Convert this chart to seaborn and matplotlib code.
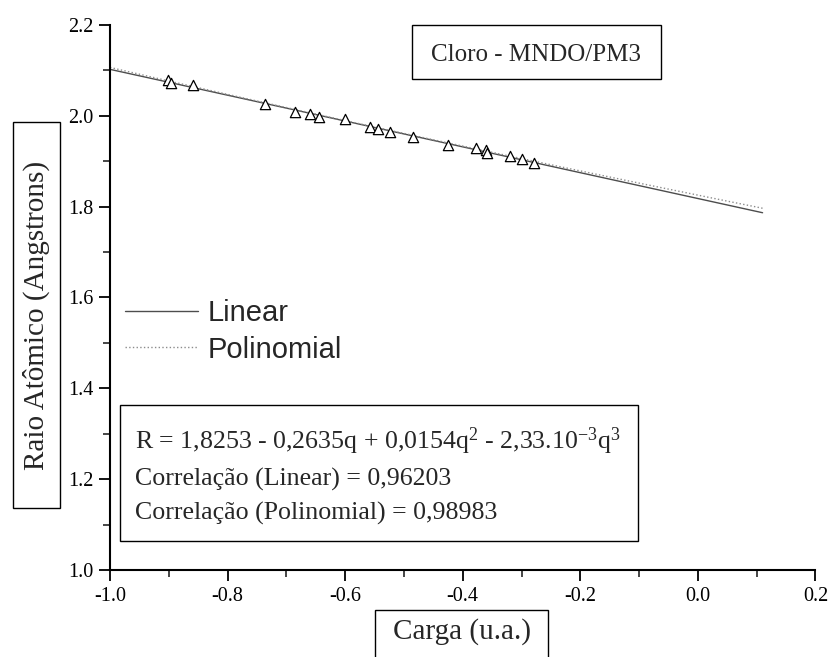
import numpy as np
import matplotlib
matplotlib.use("Agg")
import matplotlib.pyplot as plt
from matplotlib.patches import Rectangle
from matplotlib.ticker import MultipleLocator
import seaborn as sns

# ---------------------------------------------------------
# DATA
# ---------------------------------------------------------
carga = [-0.901, -0.897, -0.858, -0.737, -0.685, -0.660, -0.645, -0.600,
         -0.558, -0.544, -0.524, -0.484, -0.425, -0.377, -0.360, -0.358,
         -0.319, -0.300, -0.279]
raio = [2.079, 2.073, 2.067, 2.025, 2.009, 2.003, 1.997, 1.992,
        1.975, 1.970, 1.964, 1.953, 1.935, 1.930, 1.925, 1.919,
        1.912, 1.904, 1.897]

# R = a0 + a1 q + a2 q^2 + a3 q^3 (from the equation box)
poly_coef = [1.8253, -0.2635, 0.0154, -2.33e-3]
fit_range = [-1.0, 0.11]

titulo = "Cloro - MNDO/PM3"
texto_eq = [r"R = 1,8253 - 0,2635q + 0,0154q$^2$ - 2,33.10$^{-3}$q$^3$",
            "Correlação (Linear) = 0,96203",
            "Correlação (Polinomial) = 0,98983"]

# ---------------------------------------------------------
# STYLE
# ---------------------------------------------------------
sns.set_theme(style="ticks")
plt.rcParams["font.family"] = ["Liberation Serif", "DejaVu Serif"]
plt.rcParams["mathtext.fontset"] = "custom"
plt.rcParams["mathtext.rm"] = "Liberation Serif"
plt.rcParams["mathtext.it"] = "Liberation Serif:italic"
plt.rcParams["mathtext.default"] = "regular"

fig = plt.figure(figsize=(8.29, 6.57), dpi=100)
ax = fig.add_axes([0.1327, 0.1324, 0.851, 0.8296])

# ---------------------------------------------------------
# FITS
# ---------------------------------------------------------
q = np.linspace(fit_range[0], fit_range[1], 200)
lin = np.polyfit(carga, raio, 1)
r_lin = np.polyval(lin, q)
r_pol = np.polyval(poly_coef[::-1], q)

sns.lineplot(x=q, y=r_lin, ax=ax, color="0.3", lw=1.0, label="Linear")
sns.lineplot(x=q, y=r_pol, ax=ax, color="0.55", lw=1.0, ls=":",
             label="Polinomial")
sns.scatterplot(x=carga, y=raio, ax=ax, marker="^", s=55,
                facecolor="white", edgecolor="black", linewidth=0.9,
                zorder=5)

# ---------------------------------------------------------
# AXES
# ---------------------------------------------------------
ax.set_xlim(-1.0, 0.2)
ax.set_ylim(1.0, 2.2)
ax.xaxis.set_major_locator(MultipleLocator(0.2))
ax.xaxis.set_minor_locator(MultipleLocator(0.1))
ax.yaxis.set_major_locator(MultipleLocator(0.2))
ax.yaxis.set_minor_locator(MultipleLocator(0.1))
ax.xaxis.set_major_formatter(lambda v, p: f"{v:.1f}")
ax.yaxis.set_major_formatter(lambda v, p: f"{v:.1f}")
ax.tick_params(which="major", direction="out", length=8, width=1.3,
               labelsize=14.5, pad=4, colors="black")
ax.tick_params(which="minor", direction="out", length=5, width=1.2)
sns.despine(ax=ax)
for s in ["left", "bottom"]:
    ax.spines[s].set_linewidth(1.5)
    ax.spines[s].set_color("black")

# axis labels in boxes
ax.set_xlabel("Carga (u.a.)", fontsize=21, va="baseline", ha="center")
ax.xaxis.set_label_coords(0.5573, 0.0274, transform=fig.transFigure)
ax.set_ylabel("Raio Atômico (Angstrons)", fontsize=21, va="center",
              ha="center")
ax.yaxis.set_label_coords(0.044, 0.5205, transform=fig.transFigure)

fig.add_artist(Rectangle((0.4524, -0.02), 0.2087, 0.0915,
                         transform=fig.transFigure, fill=False,
                         ec="black", lw=1.0))
fig.add_artist(Rectangle((0.0157, 0.2268), 0.0567, 0.5875,
                         transform=fig.transFigure, fill=False,
                         ec="black", lw=1.0))

# title box
ax.add_patch(Rectangle((-0.486, 2.081), 0.423, 0.119, fill=False,
                       ec="black", lw=1.0, clip_on=False))
ax.text(-0.2746, 2.121, titulo, fontsize=18, ha="center", va="baseline")

# equation box
ax.add_patch(Rectangle((-0.983, 1.063), 0.881, 0.300, fill=False,
                       ec="black", lw=1.0, clip_on=False))
for txt, yy in zip(texto_eq, [1.266, 1.185, 1.112]):
    ax.text(-0.9576, yy, txt, fontsize=18.6, ha="left", va="baseline")

# legend
leg = ax.legend(loc="center left", bbox_to_anchor=(0.021, 0.438),
                frameon=False, handlelength=2.5,
                handletextpad=0.35, labelspacing=0.3, borderpad=0,
                borderaxespad=0, prop={"family": "Liberation Sans",
                                       "size": 21})

fig.savefig("out.png", dpi=100)
